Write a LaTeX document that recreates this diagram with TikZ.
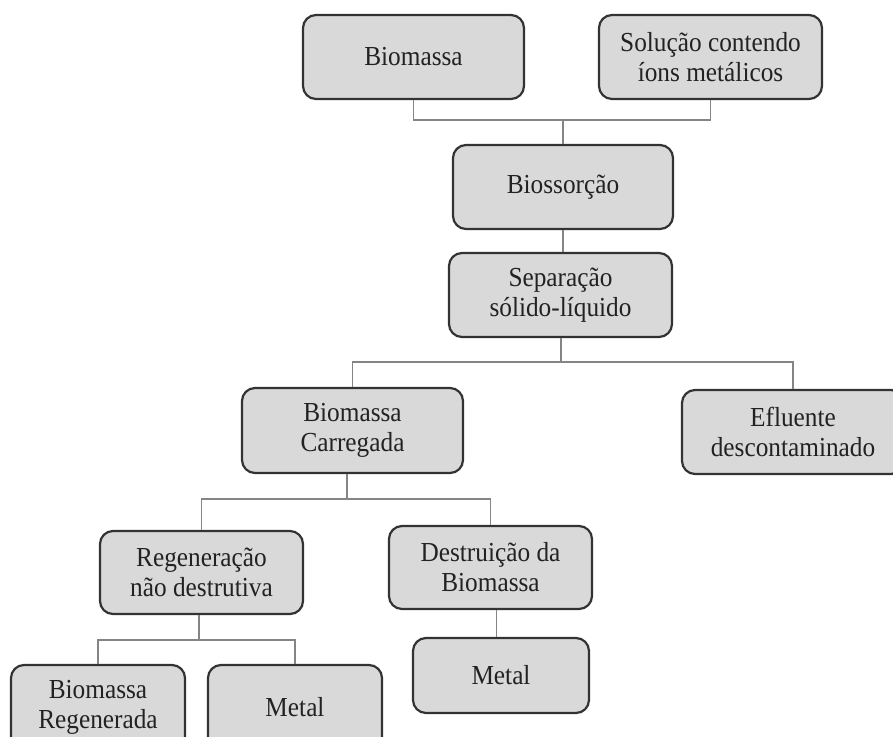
\documentclass[tikz,border=0pt]{standalone}
\usepackage{fontspec}
\setmainfont{Liberation Serif}[FakeStretch=0.92]
\definecolor{boxfill}{HTML}{D9D9D9}
\definecolor{boxline}{HTML}{333333}
\definecolor{connline}{HTML}{858585}
\definecolor{txt}{HTML}{222222}
\begin{document}
\begin{tikzpicture}[x=1pt,y=-1pt,
  box/.style={draw=boxline, line width=2.2pt, fill=boxfill, rounded corners=13pt,
    inner sep=0pt, align=center, text=txt, font=\fontsize{27.5}{30}\selectfont},
  conn/.style={draw=connline, line width=1.4pt}]
\useasboundingbox (0,0) rectangle (893,736);
\clip (0,0) rectangle (893,736);
% nodes
\node[box, minimum width=221pt, minimum height=84pt] (bio) at (413.5,57) {Biomassa};
\node[box, minimum width=223pt, minimum height=84pt] (sol) at (710.5,57) {Solução contendo\\íons metálicos};
\node[box, minimum width=220pt, minimum height=84pt] (bios) at (563,187) {Biossorção};
\node[box, minimum width=223pt, minimum height=84pt] (sep) at (560.5,295) {Separação\\sólido-líquido};
\node[box, minimum width=221pt, minimum height=85pt] (carr) at (352.5,430.5) {Biomassa\\Carregada};
\node[box, minimum width=222pt, minimum height=84pt] (eflu) at (793,432) {Efluente\\descontaminado};
\node[box, minimum width=203pt, minimum height=83pt] (reg) at (201.5,572.5) {Regeneração\\não destrutiva};
\node[box, minimum width=203pt, minimum height=83pt] (dest) at (490.5,567.5) {Destruição da\\Biomassa};
\node[box, minimum width=174pt, minimum height=85pt] (breg) at (98,707.5) {Biomassa\\Regenerada};
\node[box, minimum width=174pt, minimum height=85pt] (met1) at (295,707.5) {Metal};
\node[box, minimum width=176pt, minimum height=75pt] (met2) at (501,675.5) {Metal};
% junctions
\coordinate (j1) at (563,120);
\coordinate (j2) at (561,362);
\coordinate (j3) at (347,499);
\coordinate (j4) at (199,640);
% connectors
\draw[conn] (bio.south) |- (j1) -| (sol.south);
\draw[conn] (j1) -- (bios.north);
\draw[conn] (bios.south) -- (bios.south |- sep.north);
\draw[conn] (j2 |- sep.south) -- (j2);
\draw[conn] (carr.north) |- (j2) -| (eflu.north);
\draw[conn] (j3 |- carr.south) -- (j3);
\draw[conn] (reg.north) |- (j3) -| (dest.north);
\draw[conn] (j4 |- reg.south) -- (j4);
\draw[conn] (breg.north) |- (j4) -| (met1.north);
\draw[conn] ([xshift=6pt]dest.south) -- ([xshift=6pt]dest.south |- met2.north);
\end{tikzpicture}
\end{document}
